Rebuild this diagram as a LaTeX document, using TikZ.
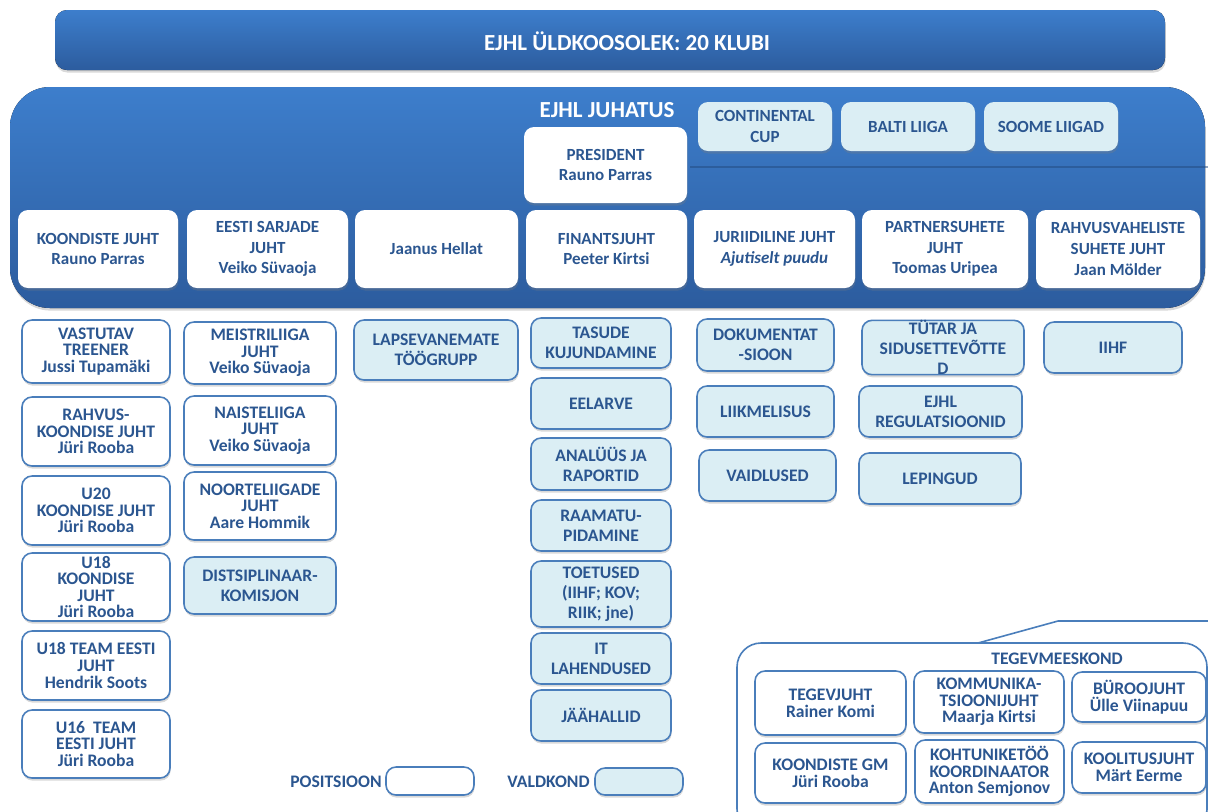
\documentclass[tikz,border=0pt]{standalone}
\usepackage{fontspec}
\setmainfont{Carlito}
\usetikzlibrary{shadows,
                backgrounds}

\definecolor{ejhltext}{HTML}{2B5690}
\definecolor{boxline}{HTML}{4A7EBB}
\definecolor{fieldfill}{HTML}{DBEEF4}
\definecolor{bluetop}{HTML}{3D7ECC}
\definecolor{bluebot}{HTML}{2C5C9E}

\begin{document}
\begin{tikzpicture}[x=0.5pt,y=-0.5pt,
  wh/.style 2 args={minimum width=#1*0.5pt,minimum height=#2*0.5pt},
  shad/.style={drop shadow={shadow xshift=0.3pt,shadow yshift=-1.3pt,opacity=0.3}},
  posbox/.style={draw=boxline,line width=0.8pt,fill=white,rounded corners=5pt,shad,
                 align=center,inner sep=0pt,text=ejhltext,
                 font=\bfseries\fontsize{8.8}{8.3}\selectfont},
  fieldbox/.style={posbox,fill=fieldfill,font=\bfseries\fontsize{8.8}{10}\selectfont},
  boardbox/.style={fill=white,rounded corners=5pt,shad,align=center,inner sep=0pt,
                   text=ejhltext,font=\bfseries\fontsize{8.5}{10.3}\selectfont},
  cupbox/.style={boardbox,fill=fieldfill},
  bigblue/.style={top color=bluetop,bottom color=bluebot,shad},
  whitetitle/.style={text=white,font=\bfseries\fontsize{11.5}{13}\selectfont},
  legendtext/.style={text=ejhltext,anchor=east,inner sep=1pt,
                     font=\bfseries\fontsize{8.8}{10}\selectfont}]
\useasboundingbox (0,0) rectangle (1208,811);
\clip (0,0) rectangle (1208,811);

% general meeting
\fill[bigblue,rounded corners=6pt] (55,10) rectangle (1165,70);
\node[whitetitle] (yldkoosolek) at (627,41) {EJHL ÜLDKOOSOLEK: 20 KLUBI};

% board
\fill[bigblue,rounded corners=20pt] (10,87) rectangle (1205,308);
\draw[bluebot!80!black,opacity=0.5,line width=1.2pt] (690,167) -- (1208,167);
\node[whitetitle] (juhatus) at (607,110) {EJHL JUHATUS};
\node[boardbox,wh={163}{76}] (president) at (605.5,165) {PRESIDENT\\Rauno Parras};
\node[cupbox,wh={134}{49}] (contcup) at (765,126.5) {CONTINENTAL\\CUP};
\node[cupbox,wh={134}{49}] (balti) at (908,126.5) {BALTI LIIGA};
\node[cupbox,wh={134}{49}] (soome) at (1051,126.5) {SOOME LIIGAD};

\node[boardbox,wh={160}{78}] (koondjuht) at (98,249) {KOONDISTE JUHT\\Rauno Parras};
\node[boardbox,wh={161}{78}] (sarjad) at (267.5,249) {EESTI SARJADE\\JUHT\\Veiko Süvaoja};
\node[boardbox,wh={163}{78}] (hellat) at (436.5,249) {Jaanus Hellat};
\node[boardbox,wh={161}{78}] (finants) at (606.5,249) {FINANTSJUHT\\Peeter Kirtsi};
\node[boardbox,wh={161}{78}] (jurist) at (774.5,249) {JURIIDILINE JUHT\\\textit{Ajutiselt puudu}};
\node[boardbox,wh={166}{78}] (partner) at (945,249) {PARTNERSUHETE\\JUHT\\Toomas Uripea};
\node[boardbox,wh={164}{78}] (rahvusvah) at (1118,249) {RAHVUSVAHELISTE\\SUHETE JUHT\\Jaan Mölder};

% national teams
\node[posbox,wh={148}{63}] (vastutav) at (96,351.5) {VASTUTAV\\TREENER\\Jussi Tupamäki};
\node[posbox,wh={148}{69}] (rahvus) at (96,431.5) {RAHVUS-\\KOONDISE JUHT\\Jüri Rooba};
\node[posbox,wh={148}{69}] (u20) at (96,510.5) {U20\\KOONDISE JUHT\\Jüri Rooba};
\node[posbox,wh={148}{68}] (u18) at (96,587) {U18\\KOONDISE\\JUHT\\Jüri Rooba};
\node[posbox,wh={148}{69}] (u18team) at (96,665.5) {U18 TEAM EESTI\\JUHT\\Hendrik Soots};
\node[posbox,wh={148}{68}] (u16) at (96,744) {U16~ TEAM\\EESTI JUHT\\Jüri Rooba};

% leagues
\node[posbox,wh={152}{62}] (meistri) at (260,353) {MEISTRILIIGA\\JUHT\\Veiko Süvaoja};
\node[posbox,wh={152}{69}] (naiste) at (260,430.5) {NAISTELIIGA\\JUHT\\Veiko Süvaoja};
\node[posbox,wh={152}{68}] (noorte) at (260,506) {NOORTELIIGADE\\JUHT\\Aare Hommik};
\node[fieldbox,wh={152}{57}] (distsipl) at (260,585.5) {DISTSIPLINAAR-\\KOMISJON};

\node[fieldbox,wh={164}{60}] (lapsevanem) at (436,350) {LAPSEVANEMATE\\TÖÖGRUPP};

% finance
\node[fieldbox,wh={140}{50}] (tasude) at (601,343) {TASUDE\\KUJUNDAMINE};
\node[fieldbox,wh={140}{51}] (eelarve) at (601,403.5) {EELARVE};
\node[fieldbox,wh={140}{52}] (analyys) at (601,464) {ANALÜÜS JA\\RAPORTID};
\node[fieldbox,wh={140}{51}] (raamatu) at (601,525.5) {RAAMATU-\\PIDAMINE};
\node[fieldbox,wh={140}{66}] (toetused) at (601,594) {TOETUSED\\(IIHF; KOV;\\RIIK; jne)};
\node[fieldbox,wh={140}{51}] (it) at (601,658.5) {IT\\LAHENDUSED};
\node[fieldbox,wh={140}{51}] (jaahallid) at (601,715.5) {JÄÄHALLID};

% legal
\node[fieldbox,wh={137}{52}] (dokument) at (765.5,345) {DOKUMENTAT\\-SIOON};
\node[fieldbox,wh={137}{51}] (liikmed) at (765.5,411.5) {LIIKMELISUS};
\node[fieldbox,wh={137}{51}] (vaidlused) at (767.5,475.5) {VAIDLUSED};

% partners
\node[fieldbox,wh={162}{51}] (tytar) at (943,347.5) {TÜTAR JA\\SIDUSETTEVÕTTE\\D};
\node[fieldbox,wh={163}{51}] (regul) at (940.5,411.5) {EJHL\\REGULATSIOONID};
\node[fieldbox,wh={162}{51}] (lepingud) at (940,478.5) {LEPINGUD};

\node[fieldbox,wh={138}{51}] (iihf) at (1113,347.5) {IIHF};

% staff
\node[draw=boxline,line width=0.8pt,rounded corners=12pt,shad,fill=white,wh={470}{190}] (tegev) at (972,738) {};
\coordinate (callbase) at (978,643);
\coordinate (callbend) at (1058,621);
\coordinate (callend) at (1210,621);
\draw[boxline,line width=0.8pt] (callbase) -- (callbend) -- (callend);
\node[text=ejhltext,font=\bfseries\fontsize{8.8}{10}\selectfont] (tegevtitle) at (1057,659) {TEGEVMEESKOND};
\node[posbox,wh={151}{64}] (tegevjuht) at (830.5,703) {TEGEVJUHT\\Rainer Komi};
\node[posbox,wh={150}{62}] (kommunik) at (989,702) {KOMMUNIKA-\\TSIOONIJUHT\\Maarja Kirtsi};
\node[posbox,wh={134}{50}] (buroo) at (1139,697) {BÜROOJUHT\\Ülle Viinapuu};
\node[posbox,wh={151}{60}] (koondgm) at (830.5,773) {KOONDISTE GM\\Jüri Rooba};
\node[posbox,wh={149}{63}] (kohtunik) at (989.5,771.5) {KOHTUNIKETÖÖ\\KOORDINAATOR\\Anton Semjonov};
\node[posbox,wh={134}{51}] (koolitus) at (1139,767.5) {KOOLITUSJUHT\\Märt Eerme};

% legend
\node[posbox,wh={88}{28}] (posleg) at (430,781) {};
\node[legendtext] (poslabel) at (384,782) {POSITSIOON};
\node[fieldbox,wh={88}{27}] (fieldleg) at (639,781.5) {};
\node[legendtext] (fieldlabel) at (592,782) {VALDKOND};
\end{tikzpicture}
\end{document}
